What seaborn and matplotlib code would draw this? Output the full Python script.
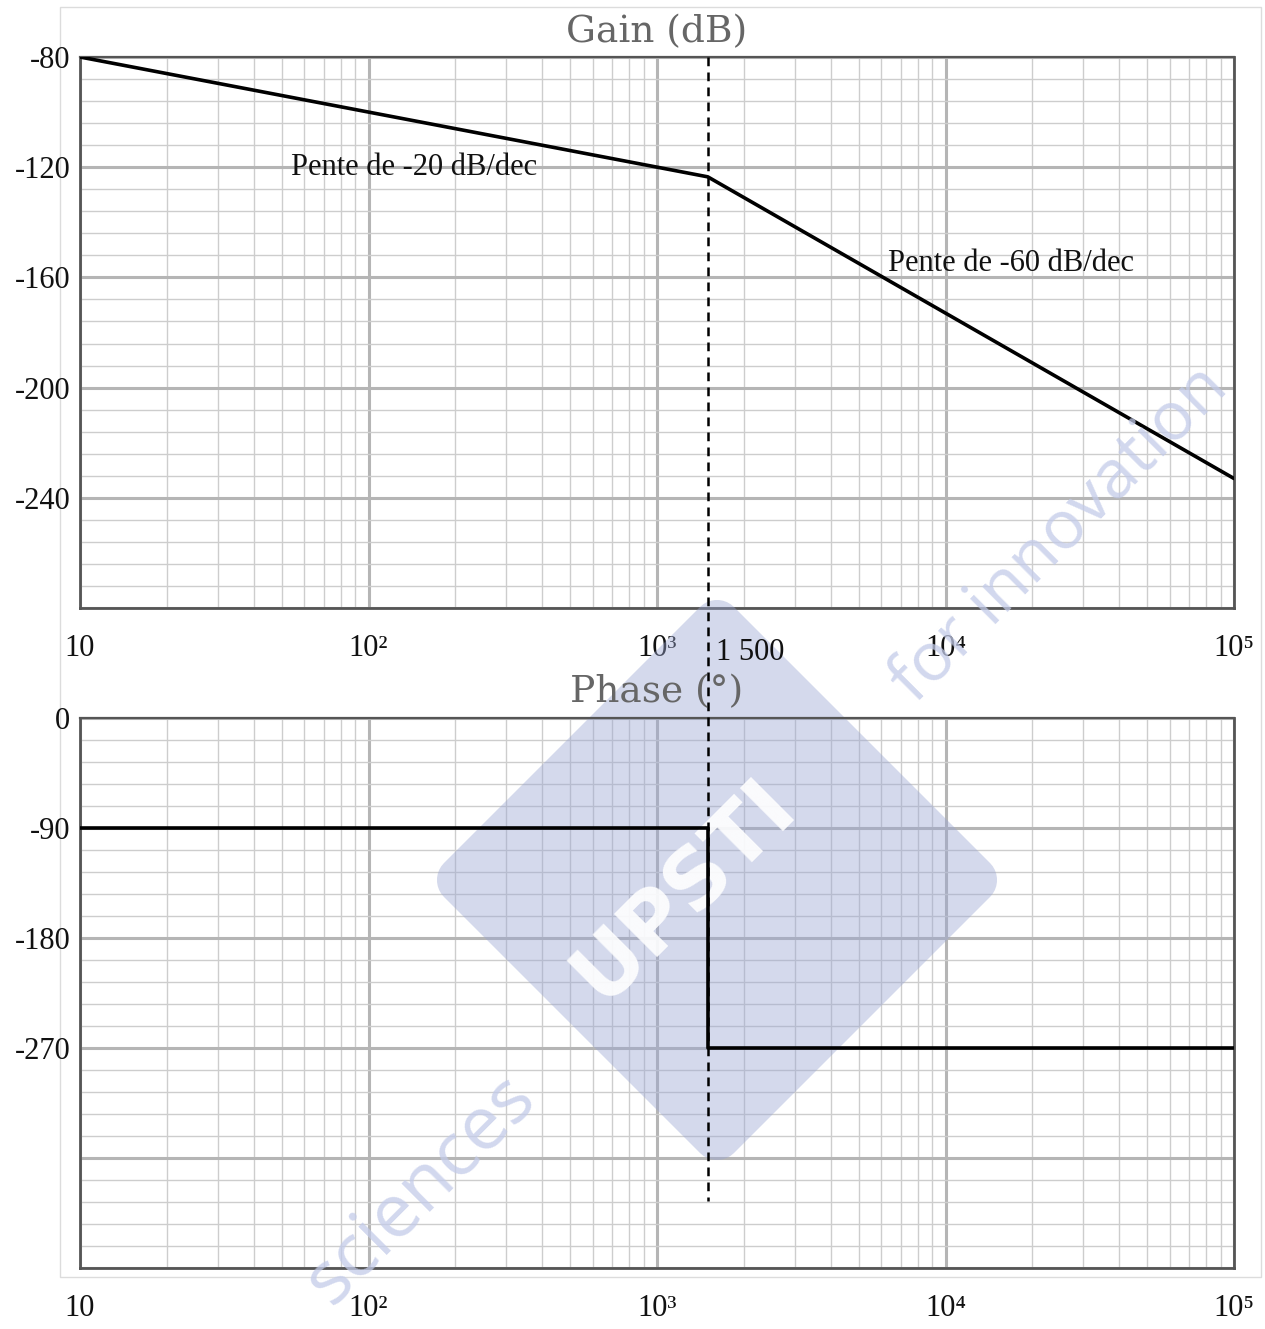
import numpy as np
import pandas as pd
import matplotlib
matplotlib.use("Agg")
import matplotlib.pyplot as plt
import seaborn as sns
from matplotlib.ticker import FixedLocator, LogLocator, NullFormatter, FixedFormatter
from matplotlib.patches import Polygon, Rectangle

# Asymptotic Bode diagram data
gain_freq = [10, 1500, 1e5]
gain_db = [-80, -123.5, -233.0]

phase_freq = [10, 1500, 1500, 1e5]
phase_deg = [-90, -90, -270, -270]

break_freq = 1500
break_label = "1 500"

decade_ticks = [10, 1e2, 1e3, 1e4, 1e5]
decade_labels = ["10", "10²", "10³", "10⁴", "10⁵"]

gain_ticks = [-80, -120, -160, -200, -240, -280]
gain_labels = ["-80", "-120", "-160", "-200", "-240", ""]
phase_ticks = [0, -90, -180, -270, -360, -450]
phase_labels = ["0", "-90", "-180", "-270", "", ""]

slope_texts = ["Pente de -20 dB/dec", "Pente de -60 dB/dec"]

sns.set_theme(style="white")
plt.rcParams["font.family"] = ["Liberation Serif", "DejaVu Serif"]

W, H = 1265, 1329
fig = plt.figure(figsize=(W / 100, H / 100), dpi=100)
fig.patch.set_facecolor("white")

# faint page frame
fig.add_artist(Rectangle((60 / W, 1 - 1277 / H), 1201 / W, 1270 / H,
                         transform=fig.transFigure, fill=False,
                         edgecolor="#dcdcdc", lw=1.0, zorder=-5))

ax_g = fig.add_axes([80 / W, 1 - 608 / H, 1154 / W, 551 / H])
ax_p = fig.add_axes([80 / W, 1 - 1268 / H, 1154 / W, 550 / H])

spine_col = "#555555"
major_grid = "#b5b5b5"
minor_grid = "#cdcdcd"


def style_axes(ax, yticks, ylabels, ystep_minor, ylim):
    ax.set_xscale("log")
    ax.set_xlim(10, 1e5)
    ax.set_ylim(*ylim)
    ax.set_facecolor("white")
    ax.xaxis.set_major_locator(FixedLocator(decade_ticks))
    ax.xaxis.set_major_formatter(FixedFormatter(decade_labels))
    ax.xaxis.set_minor_locator(LogLocator(base=10, subs=np.arange(2, 10)))
    ax.xaxis.set_minor_formatter(NullFormatter())
    ax.yaxis.set_major_locator(FixedLocator(yticks))
    ax.yaxis.set_major_formatter(FixedFormatter(ylabels))
    ax.yaxis.set_minor_locator(FixedLocator(np.arange(ylim[0], ylim[1] + 0.1, ystep_minor)))
    ax.grid(True, which="major", color=major_grid, lw=2.2)
    ax.grid(True, which="minor", color=minor_grid, lw=1.0)
    ax.set_axisbelow(True)
    for side, lw in (("left", 2.0), ("bottom", 2.0), ("top", 1.6), ("right", 2.0)):
        ax.spines[side].set_visible(True)
        ax.spines[side].set_color(spine_col)
        ax.spines[side].set_linewidth(lw)
    ax.tick_params(axis="both", which="major", direction="out", length=6, width=2,
                   color=spine_col, labelsize=22, labelcolor="#111111")
    ax.tick_params(axis="both", which="minor", direction="out", length=3.5, width=1.5,
                   color=spine_col)
    ax.tick_params(axis="x", which="major", pad=13)
    ax.tick_params(axis="y", which="major", pad=1)
    ax.set_xlabel("")
    ax.set_ylabel("")


# Gain
gain_df = pd.DataFrame({"f": gain_freq, "g": gain_db})
sns.lineplot(data=gain_df, x="f", y="g", ax=ax_g, color="black", lw=2.6,
             estimator=None, sort=False, zorder=3)
style_axes(ax_g, gain_ticks, gain_labels, 8, (-280, -80))
ax_g.text(10 ** 1.73, -120, slope_texts[0], fontsize=22, ha="left", va="center",
          color="#111111", zorder=4)
ax_g.text(10 ** 3.8, -155, slope_texts[1], fontsize=22, ha="left", va="center",
          color="#111111", zorder=4)

# Phase
phase_df = pd.DataFrame({"f": phase_freq, "p": phase_deg})
sns.lineplot(data=phase_df, x="f", y="p", ax=ax_p, color="black", lw=2.6,
             estimator=None, sort=False, zorder=3)
style_axes(ax_p, phase_ticks, phase_labels, 18, (-450, 0))

# Break frequency marker, running from the top of the gain plot down into the phase plot
top_of_gain = ax_p.transData.inverted().transform(
    ax_g.transAxes.transform((0, 1)))[1]
ax_p.plot([break_freq, break_freq], [top_of_gain, -395], color="black", lw=1.8,
          ls=(0, (3.5, 2.5)), clip_on=False, zorder=4)
ax_p.annotate(break_label, xy=(break_freq, 0), xytext=(6, 47),
              textcoords="offset points", fontsize=22, ha="left", va="center",
              color="#111111", annotation_clip=False, zorder=5)

# Titles
fig.text(657 / W, 1 - 32 / H, "Gain (dB)", ha="center", va="center",
         family="DejaVu Serif", fontsize=27, color="#666666")
fig.text(657 / W, 1 - 692 / H, "Phase (°)", ha="center", va="center",
         family="DejaVu Serif", fontsize=27, color="#666666")

# Watermark: rounded diamond
cx, cy, r, rc = 717, 880, 290, 24
corners = [(cx, cy - r), (cx + r, cy), (cx, cy + r), (cx - r, cy)]
pts = []
for x, y in corners:
    # centre of the rounding arc lies inward along the diagonal
    dx, dy = cx - x, cy - y
    d = np.hypot(dx, dy)
    ux, uy = dx / d, dy / d
    acx, acy = x + ux * rc * np.sqrt(2), y + uy * rc * np.sqrt(2)
    base = np.arctan2(-uy, -ux)
    for a in np.linspace(base - np.pi / 4, base + np.pi / 4, 10):
        pts.append((acx + rc * np.cos(a), acy + rc * np.sin(a)))
fpts = [(x / W, 1 - y / H) for x, y in pts]
wm = Polygon(fpts, closed=True, transform=fig.transFigure, facecolor="#9aa6d2",
             edgecolor="none", alpha=0.42, zorder=1.5, clip_on=False)
ax_p.add_artist(wm)
ax_p.text(684 / W, 1 - 890 / H, "UPSTI", transform=fig.transFigure, rotation=45,
          ha="center", va="center", fontsize=60, fontweight="bold",
          family="DejaVu Sans", color="white", alpha=0.9, zorder=1.6, clip_on=False)
fig.text(420 / W, 1 - 1190 / H, "sciences", rotation=45, ha="center", va="center",
         fontsize=54, family="Open Sans", color="#c3cbe9", alpha=0.75, zorder=10)
fig.text(915 / W, 1 - 705 / H, "for innovation", rotation=45, ha="left",
         va="baseline", rotation_mode="anchor", fontsize=49, family="Open Sans",
         color="#c3cbe9", alpha=0.75, zorder=10)

fig.savefig("out.png", dpi=100, facecolor="white")
